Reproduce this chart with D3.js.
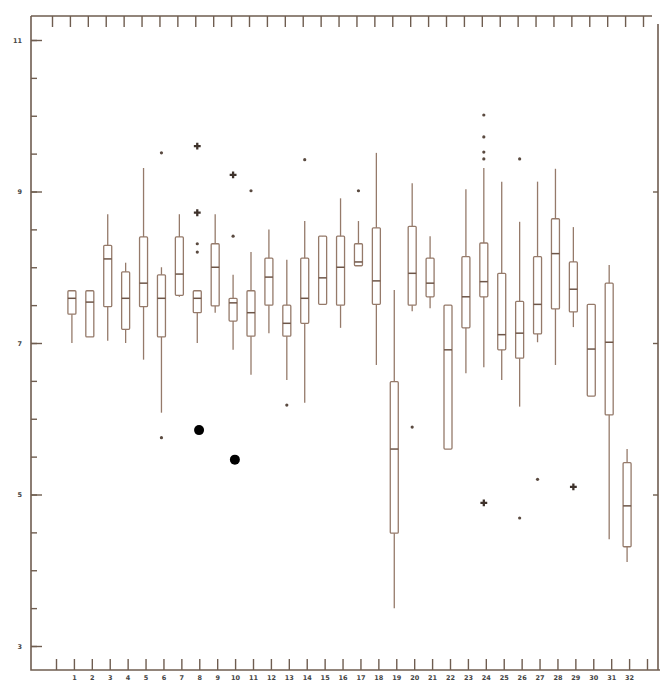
<!DOCTYPE html>
<html>
<head>
<meta charset="utf-8">
<script src="https://cdn.jsdelivr.net/npm/d3@7"></script>
<style>
  body { margin: 0; background: #fff; }
  text { font-family: "DejaVu Sans", sans-serif; }
</style>
</head>
<body>
<div id="chart"></div>
<script>
// data
const categories = [1, 2, 3, 4, 5, 6, 7, 8, 9, 10, 11, 12, 13, 14, 15, 16,
                    17, 18, 19, 20, 21, 22, 23, 24, 25, 26, 27, 28, 29, 30, 31, 32];
const whiskerLow = [7.00, 7.08, 7.03, 7.00, 6.78, 6.08, 7.61, 7.00, 7.40, 6.91, 6.58, 7.13, 6.51, 6.21, 7.51, 7.20,
                    8.02, 6.71, 3.50, 7.42, 7.46, 5.60, 6.60, 6.68, 6.51, 6.16, 7.01, 6.71, 7.21, 6.30, 4.41, 4.11];
const q1 =         [7.38, 7.08, 7.48, 7.18, 7.48, 7.08, 7.63, 7.40, 7.49, 7.29, 7.09, 7.50, 7.09, 7.26, 7.51, 7.50,
                    8.02, 7.51, 4.49, 7.50, 7.61, 5.60, 7.20, 7.61, 6.91, 6.80, 7.12, 7.45, 7.41, 6.30, 6.05, 4.31];
const median =     [7.59, 7.54, 8.11, 7.59, 7.79, 7.59, 7.91, 7.59, 8.00, 7.53, 7.40, 7.87, 7.26, 7.59, 7.86, 8.00,
                    8.07, 7.82, 5.60, 7.92, 7.79, 6.91, 7.61, 7.81, 7.11, 7.13, 7.51, 8.18, 7.71, 6.92, 7.01, 4.85];
const q3 =         [7.69, 7.69, 8.29, 7.94, 8.40, 7.90, 8.40, 7.69, 8.31, 7.59, 7.69, 8.12, 7.50, 8.12, 8.41, 8.41,
                    8.31, 8.52, 6.49, 8.54, 8.12, 7.50, 8.14, 8.32, 7.92, 7.55, 8.14, 8.64, 8.07, 7.51, 7.79, 5.42];
const whiskerHigh = [7.69, 7.69, 8.70, 8.06, 9.31, 8.00, 8.70, 7.69, 8.70, 7.90, 8.20, 8.50, 8.10, 8.61, 8.41, 8.91,
                     8.61, 9.51, 7.70, 9.11, 8.41, 7.50, 9.03, 9.31, 9.13, 8.60, 9.13, 9.30, 8.53, 7.51, 8.03, 5.60];

// outliers: [category, value, marker]
const outliers = [
  [6, 9.51, "dot"], [6, 5.75, "dot"],
  [8, 9.60, "star"], [8, 8.72, "star"], [8, 8.31, "dot"], [8, 8.20, "dot"],
  [10, 9.22, "star"], [10, 8.41, "dot"],
  [11, 9.01, "dot"],
  [13, 6.18, "dot"],
  [14, 9.42, "dot"],
  [17, 9.01, "dot"],
  [20, 5.89, "dot"],
  [24, 10.01, "dot"], [24, 9.72, "dot"], [24, 9.52, "dot"], [24, 9.43, "dot"], [24, 4.89, "star"],
  [26, 9.43, "dot"], [26, 4.69, "dot"],
  [27, 5.20, "dot"],
  [29, 5.10, "star"]
];

// the two large black marks on the sheet: [category position, value]
const blackMarks = [[8.1, 5.85], [10.1, 5.46]];

const yLabels = [3, 5, 7, 9, 11];
const yMinor = [3, 3.5, 4, 4.5, 5, 5.5, 6, 6.5, 7, 7.5, 8, 8.5, 9, 9.5, 10, 10.5, 11];
const xTickPos = [0, 1, 2, 3, 4, 5, 6, 7, 8, 9, 10, 11, 12, 13, 14, 15, 16,
                  17, 18, 19, 20, 21, 22, 23, 24, 25, 26, 27, 28, 29, 30, 31, 32, 33];

const width = 660, height = 683;
const frameL = 31, frameT = 16, frameB = 670, frameR = 658;
const boxColor = "#957a6a";
const axisColor = "#6f5d50";

const svg = d3.select("#chart")
    .append("svg")
    .attr("width", width)
    .attr("height", height);

const x = d3.scaleLinear().domain([0, 33]).range([54, 645]);
const y = d3.scaleLinear().domain([3, 11]).range([646, 40]);

// frame
svg.append("path")
    .attr("d", `M${frameL},${frameT}H652M${frameL},${frameT}V${frameB}H${width}M${frameR},24V${frameB}`)
    .attr("fill", "none")
    .attr("stroke", axisColor)
    .attr("stroke-width", 1.6);

const styleAxis = g => {
    g.select(".domain").remove();
    g.selectAll("line").attr("stroke", axisColor).attr("stroke-width", 1.4);
    g.selectAll("text").attr("fill", "#444").attr("font-size", 6.5).attr("font-weight", "bold");
};

// left ticks, pointing inward
svg.append("g")
    .attr("transform", `translate(${frameL},0)`)
    .call(d3.axisRight(y).tickValues(yMinor).tickSize(6).tickFormat(""))
    .call(styleAxis);
svg.append("g")
    .attr("transform", `translate(${frameL},0)`)
    .call(d3.axisRight(y).tickValues(yLabels).tickSize(11).tickFormat(""))
    .call(styleAxis);
svg.append("g")
    .attr("transform", `translate(${frameL},0)`)
    .call(d3.axisLeft(y).tickValues(yLabels).tickSize(0).tickPadding(9).tickFormat(d3.format("d")))
    .call(styleAxis);

// right ticks
svg.append("g")
    .attr("transform", `translate(${frameR},0)`)
    .call(d3.axisLeft(y).tickValues(yLabels.slice(1, 4)).tickSize(5).tickFormat(""))
    .call(styleAxis);

// bottom ticks + labels (scan is slightly skewed, so shifted a little)
svg.append("g")
    .attr("transform", `translate(2,${frameB})`)
    .call(d3.axisTop(x).tickValues(xTickPos).tickSize(11).tickFormat(""))
    .call(styleAxis);
svg.append("g")
    .attr("transform", `translate(2,${frameB})`)
    .call(d3.axisBottom(x).tickValues(categories).tickSize(0).tickPadding(5).tickFormat(d3.format("d")))
    .call(styleAxis);

// top ticks
svg.append("g")
    .attr("transform", `translate(-2,${frameT})`)
    .call(d3.axisBottom(x).tickValues(xTickPos).tickSize(11).tickFormat(""))
    .call(styleAxis);

// boxes
const boxW = 8;
const boxes = svg.append("g")
    .selectAll("g")
    .data(categories)
    .join("g");

boxes.append("line")
    .attr("x1", d => x(d))
    .attr("x2", d => x(d))
    .attr("y1", (d, i) => y(whiskerLow[i]))
    .attr("y2", (d, i) => y(whiskerHigh[i]))
    .attr("stroke", boxColor)
    .attr("stroke-width", 1.3);

boxes.append("rect")
    .attr("x", d => x(d) - boxW / 2)
    .attr("width", boxW)
    .attr("y", (d, i) => y(q3[i]))
    .attr("height", (d, i) => y(q1[i]) - y(q3[i]))
    .attr("rx", 1)
    .attr("fill", "#fff")
    .attr("stroke", boxColor)
    .attr("stroke-width", 1.3);

boxes.append("line")
    .attr("x1", d => x(d) - boxW / 2)
    .attr("x2", d => x(d) + boxW / 2)
    .attr("y1", (d, i) => y(median[i]))
    .attr("y2", (d, i) => y(median[i]))
    .attr("stroke", "#6e5648")
    .attr("stroke-width", 1.5);

// outliers
svg.append("g")
    .selectAll("circle")
    .data(outliers.filter(d => d[2] === "dot"))
    .join("circle")
    .attr("cx", d => x(d[0]))
    .attr("cy", d => y(d[1]))
    .attr("r", 1.6)
    .attr("fill", "#5a4a40");

svg.append("g")
    .selectAll("path")
    .data(outliers.filter(d => d[2] === "star"))
    .join("path")
    .attr("transform", d => `translate(${x(d[0])},${y(d[1])})`)
    .attr("d", d3.symbol(d3.symbolCross, 26))
    .attr("fill", "#3e322b");

svg.append("g")
    .selectAll("circle")
    .data(blackMarks)
    .join("circle")
    .attr("cx", d => x(d[0]))
    .attr("cy", d => y(d[1]))
    .attr("r", 5)
    .attr("fill", "#000");
</script>
</body>
</html>
